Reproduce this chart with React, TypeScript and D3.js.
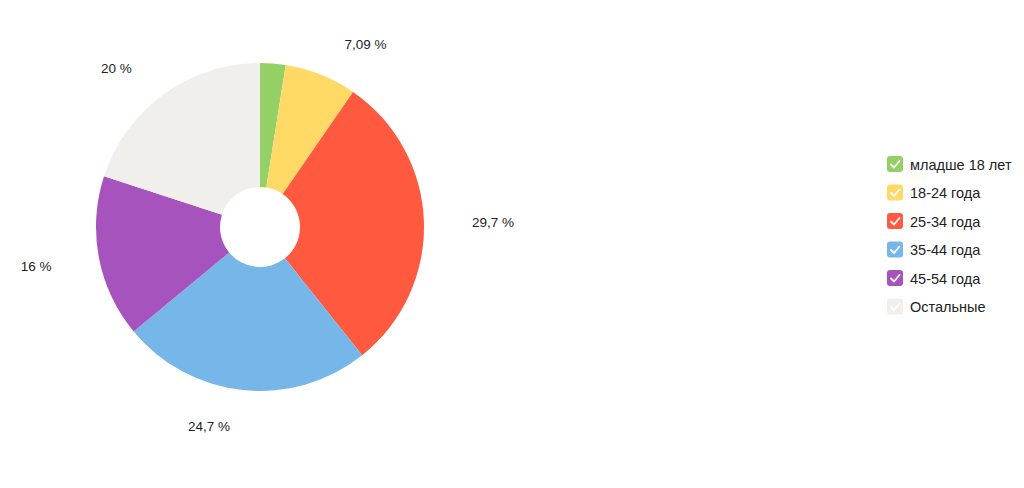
import React from "react";
import * as d3 from "d3";

const categories = ["младше 18 лет", "18-24 года", "25-34 года", "35-44 года", "45-54 года", "Остальные"];
const values = [2.51, 7.09, 29.7, 24.7, 16, 20];
const labels = ["", "7,09 %", "29,7 %", "24,7 %", "16 %", "20 %"];
const colors = ["#95d066", "#ffd966", "#ff5a40", "#77b6e8", "#a653bd", "#f1efeb"];

const W = 1024;
const H = 488;
const cx = 260;
const cy = 227;
const outerR = 164;
const innerR = 40;
const labelRx = 203;
const labelRy = 199;
const labelPad = 9;

export default function App() {
  const pie = d3.pie<number>().sort(null).value((d) => d)(values);
  const arc = d3.arc<d3.PieArcDatum<number>>().innerRadius(innerR).outerRadius(outerR);
  const font = "'Liberation Sans', Arial, Helvetica, sans-serif";

  return (
    <svg width={W} height={H} style={{ position: "absolute", left: 0, top: 0, background: "#fff" }}>
      <g transform={`translate(${cx},${cy})`}>
        {pie.map((p, i) => (
          <path key={i} d={arc(p) || ""} fill={colors[i]} />
        ))}
        {pie.map((p, i) => {
          if (!labels[i]) return null;
          const a = (p.startAngle + p.endAngle) / 2;
          const sx = Math.sin(a);
          const x = labelRx * sx + (sx >= 0 ? labelPad : -labelPad);
          const y = -labelRy * Math.cos(a) + 2;
          return (
            <text
              key={"l" + i}
              x={x}
              y={y}
              textAnchor={sx >= 0 ? "start" : "end"}
              dominantBaseline="central"
              fontFamily={font}
              fontSize={13.5}
              fill="#222"
            >
              {labels[i]}
            </text>
          );
        })}
      </g>
      <g transform="translate(887,156)">
        {categories.map((c, i) => (
          <g key={c} transform={`translate(0,${i * 28.5})`}>
            <rect x={0} y={0} width={16} height={16} rx={3} fill={colors[i]} />
            <path
              d="M4 8.5 L7 11.5 L12.5 5"
              fill="none"
              stroke="#fff"
              strokeWidth={1.8}
              strokeLinecap="round"
              strokeLinejoin="round"
            />
            <text x={23} y={8.5} dominantBaseline="central" fontFamily={font} fontSize={14.5} fill="#222">
              {c}
            </text>
          </g>
        ))}
      </g>
    </svg>
  );
}
